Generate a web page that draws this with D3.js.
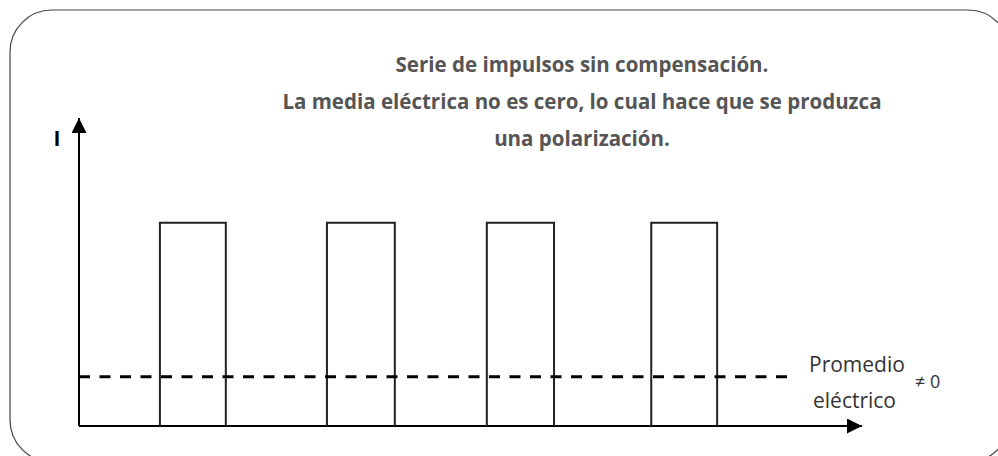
<!DOCTYPE html>
<html>
<head>
<meta charset="utf-8">
<script src="https://cdn.jsdelivr.net/npm/d3@7"></script>
<style>
  body { margin: 0; background: #fff; }
</style>
</head>
<body>
<div id="chart"></div>
<script>
// datos
var pulse_start = [1.24, 3.80, 6.25, 8.77];
var pulse_end = [2.25, 4.84, 7.28, 9.78];
var pulse_amp = [0.66, 0.66, 0.66, 0.66];
var mean_value = 0.16;
var mean_end = 10.85;
var title_lines = ["Serie de impulsos sin compensación.",
                   "La media eléctrica no es cero, lo cual hace que se produzca",
                   "una polarización."];

var width = 998,
    height = 456;

var svg = d3.select("#chart").append("svg")
    .attr("width", width)
    .attr("height", height);

// marco redondeado
svg.append("rect")
    .attr("x", 10)
    .attr("y", 10)
    .attr("width", 1000)
    .attr("height", 452)
    .attr("rx", 42)
    .attr("fill", "none")
    .attr("stroke", "#444")
    .attr("stroke-width", 1.2);

var x = d3.scaleLinear().domain([0, 12]).range([79, 862]);
var y = d3.scaleLinear().domain([0, 1]).range([426, 118]);

// flechas
var defs = svg.append("defs");
defs.append("marker")
    .attr("id", "arrow")
    .attr("viewBox", "0 0 10 10")
    .attr("refX", 10)
    .attr("refY", 5)
    .attr("markerWidth", 7.5)
    .attr("markerHeight", 7.5)
    .attr("orient", "auto")
    .append("path")
    .attr("d", "M0,0L10,5L0,10Z")
    .attr("fill", "#000");

// ejes
svg.append("line")
    .attr("x1", x(0)).attr("y1", y(0))
    .attr("x2", x(0)).attr("y2", y(1))
    .attr("stroke", "#000")
    .attr("stroke-width", 2)
    .attr("marker-end", "url(#arrow)");

svg.append("line")
    .attr("x1", x(0)).attr("y1", y(0))
    .attr("x2", x(12)).attr("y2", y(0))
    .attr("stroke", "#000")
    .attr("stroke-width", 2)
    .attr("marker-end", "url(#arrow)");

// impulsos
var pulses = pulse_start.map(function(d, i) {
    return {s: d, e: pulse_end[i], a: pulse_amp[i]};
});

svg.selectAll(".pulse")
    .data(pulses)
    .enter().append("path")
    .attr("class", "pulse")
    .attr("d", function(d) {
        return "M" + x(d.s) + "," + y(0) + "V" + y(d.a) + "H" + x(d.e) + "V" + y(0);
    })
    .attr("fill", "none")
    .attr("stroke", "#222")
    .attr("stroke-width", 2);

// media electrica
svg.append("line")
    .attr("x1", x(0)).attr("y1", y(mean_value))
    .attr("x2", x(mean_end)).attr("y2", y(mean_value))
    .attr("stroke", "#000")
    .attr("stroke-width", 3)
    .attr("stroke-dasharray", "11,9.5");

// titulo
svg.selectAll(".title")
    .data(title_lines)
    .enter().append("text")
    .attr("class", "title")
    .attr("x", 582)
    .attr("y", function(d, i) { return 72 + i * 37; })
    .text(function(d) { return d; })
    .style("text-anchor", "middle")
    .style("font-family", "'Open Sans', sans-serif")
    .style("font-weight", "bold")
    .style("font-size", "20.5px")
    .style("fill", "#555");

// etiquetas
svg.append("text")
    .attr("x", 57)
    .attr("y", 146)
    .text("I")
    .style("text-anchor", "middle")
    .style("font-family", "'Open Sans', sans-serif")
    .style("font-weight", "bold")
    .style("font-size", "21px")
    .style("fill", "#000");

svg.append("text")
    .attr("x", 809)
    .attr("y", 372)
    .text("Promedio")
    .style("font-family", "'Open Sans', sans-serif")
    .style("font-size", "21px")
    .style("fill", "#333");

svg.append("text")
    .attr("x", 813)
    .attr("y", 408)
    .text("eléctrico")
    .style("font-family", "'Open Sans', sans-serif")
    .style("font-size", "21px")
    .style("fill", "#333");

svg.append("text")
    .attr("x", 915)
    .attr("y", 388)
    .text("≠ 0")
    .style("font-family", "'Open Sans', sans-serif")
    .style("font-size", "18px")
    .style("fill", "#333");
</script>
</body>
</html>
